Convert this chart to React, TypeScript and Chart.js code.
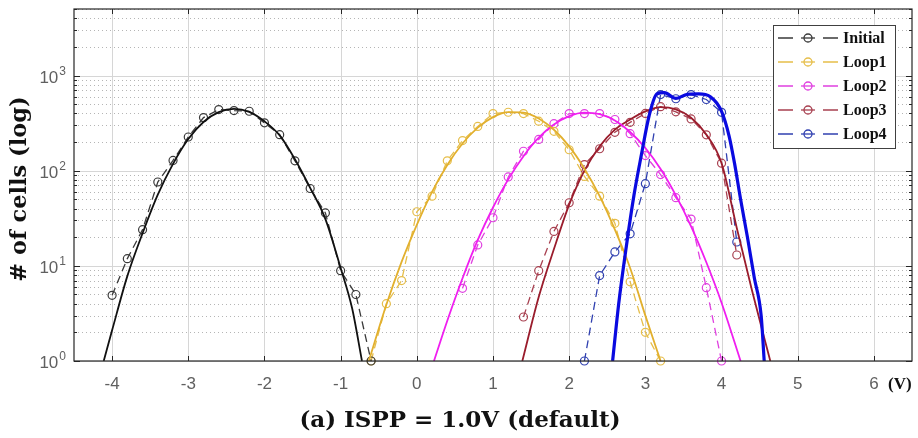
import React, { useEffect, useRef } from "react";
import { Chart, registerables } from "chart.js";

Chart.register(...registerables);

// ---------- data (threshold voltage V, number of cells) ----------
const initialV = [-4.0, -3.8, -3.6, -3.4, -3.2, -3.0, -2.8, -2.6, -2.4, -2.2, -2.0, -1.8, -1.6, -1.4, -1.2, -1.0, -0.8, -0.6];
const initialN = [4.9, 11.9, 24, 76, 128, 226, 361, 439, 428, 421, 318, 239, 127, 65, 36, 8.9, 5.0, 1];
const initialFitV = [-4.11, -4.0, -3.8, -3.6, -3.4, -3.2, -3.0, -2.8, -2.6, -2.4, -2.2, -2.0, -1.8, -1.6, -1.4, -1.2, -1.0, -0.85, -0.72];
const initialFitN = [1, 2.1, 7.8, 22, 56, 118, 215, 325, 412, 447, 415, 330, 235, 132, 66, 31, 9.5, 3.6, 1];

const loop1V = [-0.6, -0.4, -0.2, 0.0, 0.2, 0.4, 0.6, 0.8, 1.0, 1.2, 1.4, 1.6, 1.8, 2.0, 2.2, 2.4, 2.6, 2.8, 3.0, 3.2];
const loop1N = [1, 4, 7, 37, 54, 127, 207, 292, 398, 411, 398, 331, 259, 166, 87, 54, 28, 6.8, 2, 1];
const loop1FitV = [-0.63, -0.4, -0.2, 0.0, 0.2, 0.4, 0.6, 0.8, 1.0, 1.2, 1.4, 1.6, 1.8, 2.0, 2.2, 2.4, 2.6, 2.8, 3.0, 3.2];
const loop1FitN = [1, 3.9, 11, 27, 60, 115, 193, 283, 365, 412, 408, 354, 269, 180, 105, 54, 24, 9.5, 3, 1];

const loop2V = [0.6, 0.8, 1.0, 1.2, 1.4, 1.6, 1.8, 2.0, 2.2, 2.4, 2.6, 2.8, 3.0, 3.2, 3.4, 3.6, 3.8, 4.0];
const loop2N = [5.8, 16.6, 32, 86, 160, 213, 312, 398, 398, 398, 345, 245, 144, 91, 52, 31, 5.9, 1];
const loop2FitV = [0.225, 0.4, 0.6, 0.8, 1.0, 1.2, 1.4, 1.6, 1.8, 2.0, 2.2, 2.4, 2.6, 2.8, 3.0, 3.2, 3.4, 3.6, 3.8, 4.0, 4.25];
const loop2FitN = [1, 2.65, 7.4, 18.7, 41, 81, 142, 222, 305, 374, 407, 392, 336, 255, 173, 104, 55, 26, 10.9, 4.1, 1];

const loop3V = [1.4, 1.6, 1.8, 2.0, 2.2, 2.4, 2.6, 2.8, 3.0, 3.2, 3.4, 3.6, 3.8, 4.0, 4.2];
const loop3N = [2.9, 8.9, 23, 46, 116, 170, 253, 322, 400, 470, 415, 350, 238, 120, 13];
const loop3FitV = [1.385, 1.6, 1.8, 2.0, 2.2, 2.4, 2.6, 2.8, 3.0, 3.2, 3.4, 3.6, 3.8, 4.0, 4.2, 4.4, 4.64];
const loop3FitN = [1, 4.7, 15, 44, 100, 180, 270, 345, 420, 465, 440, 360, 240, 120, 25, 5.5, 1];

const loop4V = [2.2, 2.4, 2.6, 2.8, 3.0, 3.2, 3.4, 3.6, 3.8, 4.0, 4.2];
const loop4N = [1, 7.9, 14, 21.7, 73, 630, 570, 630, 560, 410, 17.8];
const loop4FitV = [2.57, 2.65, 2.75, 2.85, 2.95, 3.05, 3.15, 3.25, 3.4, 3.55, 3.7, 3.85, 4.0, 4.1, 4.17, 4.25, 4.34, 4.43, 4.52, 4.56];
const loop4FitN = [1, 4, 16, 55, 150, 380, 640, 660, 575, 635, 640, 600, 420, 230, 120, 50, 20, 7.5, 3, 1];

// ---------- axis / labels ----------
const xTicks = [-4, -3, -2, -1, 0, 1, 2, 3, 4, 5, 6];
const yDecades = [1, 10, 100, 1000];
const yExponents = ["0", "1", "2", "3"];
const yMinorMult = [2, 3, 4, 5, 6, 7, 8, 9];
const seriesLabels = ["Initial", "Loop1", "Loop2", "Loop3", "Loop4"];
const dataColors = ["#3a3a3a", "#E6BE4A", "#E040E0", "#A84050", "#3040B0"];
const fitColors = ["#111111", "#E2B02E", "#F01EF0", "#9A1C2C", "#0A0AE0"];
const xAxisTitle = "(a) ISPP = 1.0V (default)";
const yAxisTitle = "# of cells (log)";
const xUnit = "(V)";

const pts = (v: number[], n: number[]) => v.map((x, i) => ({ x, y: n[i] }));

const dataSets = [
  pts(initialV, initialN),
  pts(loop1V, loop1N),
  pts(loop2V, loop2N),
  pts(loop3V, loop3N),
  pts(loop4V, loop4N),
];
const fitSets = [
  pts(initialFitV, initialFitN),
  pts(loop1FitV, loop1FitN),
  pts(loop2FitV, loop2FitN),
  pts(loop3FitV, loop3FitN),
  pts(loop4FitV, loop4FitN),
];

const DASH = [8, 5];

const decor = {
  id: "decor",
  beforeDatasetsDraw(chart: any) {
    const { ctx, chartArea: a, scales } = chart;
    const xs = scales.x;
    const ys = scales.y;
    ctx.save();
    // minor dotted horizontal grid
    ctx.strokeStyle = "#b5b5b5";
    ctx.lineWidth = 1;
    ctx.setLineDash([1, 3]);
    for (const d of yDecades) {
      for (const m of yMinorMult) {
        const v = d * m;
        if (v > ys.max) continue;
        const y = Math.round(ys.getPixelForValue(v)) + 0.5;
        ctx.beginPath();
        ctx.moveTo(a.left, y);
        ctx.lineTo(a.right, y);
        ctx.stroke();
      }
    }
    // major grid
    ctx.setLineDash([]);
    ctx.strokeStyle = "#d6d6d6";
    for (const d of yDecades) {
      const y = Math.round(ys.getPixelForValue(d)) + 0.5;
      ctx.beginPath();
      ctx.moveTo(a.left, y);
      ctx.lineTo(a.right, y);
      ctx.stroke();
    }
    for (const t of xTicks) {
      const x = Math.round(xs.getPixelForValue(t)) + 0.5;
      ctx.beginPath();
      ctx.moveTo(x, a.top);
      ctx.lineTo(x, a.bottom);
      ctx.stroke();
    }
    ctx.restore();
  },
  afterDatasetsDraw(chart: any) {
    const { ctx, chartArea: a, scales } = chart;
    const xs = scales.x;
    const ys = scales.y;
    ctx.save();
    // box
    ctx.setLineDash([]);
    ctx.strokeStyle = "#262626";
    ctx.lineWidth = 1.2;
    ctx.strokeRect(a.left, a.top, a.right - a.left, a.bottom - a.top);
    // tick marks
    ctx.lineWidth = 1;
    ctx.beginPath();
    for (const t of xTicks) {
      const x = Math.round(xs.getPixelForValue(t)) + 0.5;
      ctx.moveTo(x, a.bottom);
      ctx.lineTo(x, a.bottom - 5);
      ctx.moveTo(x, a.top);
      ctx.lineTo(x, a.top + 5);
    }
    for (const d of yDecades) {
      const y = Math.round(ys.getPixelForValue(d)) + 0.5;
      ctx.moveTo(a.left, y);
      ctx.lineTo(a.left + 6, y);
      ctx.moveTo(a.right, y);
      ctx.lineTo(a.right - 6, y);
      for (const m of yMinorMult) {
        const v = d * m;
        if (v > ys.max) continue;
        const ym = Math.round(ys.getPixelForValue(v)) + 0.5;
        ctx.moveTo(a.left, ym);
        ctx.lineTo(a.left + 3, ym);
        ctx.moveTo(a.right, ym);
        ctx.lineTo(a.right - 3, ym);
      }
    }
    ctx.stroke();

    // x tick labels
    ctx.fillStyle = "#606060";
    ctx.font = '17px "Liberation Sans"';
    ctx.textAlign = "center";
    ctx.textBaseline = "alphabetic";
    for (const t of xTicks) {
      ctx.fillText(String(t), xs.getPixelForValue(t), 389);
    }
    // y tick labels 10^n
    const right = 66;
    yDecades.forEach((d, i) => {
      const y = ys.getPixelForValue(d);
      ctx.font = '12px "Liberation Sans"';
      const w2 = ctx.measureText(yExponents[i]).width;
      ctx.font = '17px "Liberation Sans"';
      const w1 = ctx.measureText("10").width;
      ctx.textAlign = "left";
      ctx.fillText("10", right - w2 - w1 - 1, y + 7);
      ctx.font = '12px "Liberation Sans"';
      ctx.fillText(yExponents[i], right - w2, y - 1);
    });

    // unit
    ctx.fillStyle = "#111";
    ctx.font = 'bold 17px "Liberation Serif"';
    ctx.textAlign = "left";
    ctx.fillText(xUnit, 888, 389);

    // x title
    ctx.font = 'bold 23px "DejaVu Serif"';
    ctx.textAlign = "center";
    ctx.fillText(xAxisTitle, 460, 427);

    // y title
    ctx.save();
    ctx.translate(20, 189);
    ctx.rotate(-Math.PI / 2);
    ctx.textBaseline = "middle";
    ctx.font = 'bold 22.5px "DejaVu Serif"';
    ctx.fillText(yAxisTitle, 0, 0);
    ctx.restore();

    // legend
    const lx = 773, ly = 25, lw = 122, lh = 123;
    ctx.fillStyle = "#ffffff";
    ctx.fillRect(lx, ly, lw, lh);
    ctx.strokeStyle = "#404040";
    ctx.lineWidth = 1;
    ctx.strokeRect(lx + 0.5, ly + 0.5, lw, lh);
    seriesLabels.forEach((lab, i) => {
      const cy = 38 + i * 24;
      const col = dataColors[i];
      ctx.strokeStyle = col;
      ctx.lineWidth = 1.3;
      ctx.beginPath();
      ctx.moveTo(778, cy);
      ctx.lineTo(793, cy);
      ctx.moveTo(823, cy);
      ctx.lineTo(838, cy);
      ctx.stroke();
      ctx.beginPath();
      ctx.arc(808, cy, 4, 0, Math.PI * 2);
      ctx.stroke();
      ctx.beginPath();
      ctx.moveTo(801, cy);
      ctx.lineTo(815, cy);
      ctx.stroke();
      ctx.fillStyle = "#111";
      ctx.font = 'bold 16px "Liberation Serif"';
      ctx.textAlign = "left";
      ctx.textBaseline = "middle";
      ctx.fillText(lab, 843, cy + 1);
    });
    ctx.restore();
  },
};

export default function App() {
  const ref = useRef<HTMLCanvasElement | null>(null);
  useEffect(() => {
    if (!ref.current) return;
    const datasets: any[] = [];
    fitSets.forEach((d, i) => {
      datasets.push({
        label: seriesLabels[i] + " fit",
        data: d,
        borderColor: fitColors[i],
        borderWidth: i === 4 ? 3.2 : 1.8,
        pointRadius: 0,
        fill: false,
        cubicInterpolationMode: "monotone",
        order: i === 4 ? 0 : 2,
      });
    });
    dataSets.forEach((d, i) => {
      datasets.push({
        label: seriesLabels[i],
        data: d,
        borderColor: dataColors[i],
        borderWidth: 1.3,
        borderDash: DASH,
        pointRadius: 4,
        pointBorderWidth: 1.2,
        pointBackgroundColor: "rgba(0,0,0,0)",
        pointBorderColor: dataColors[i],
        fill: false,
        tension: 0,
        clip: false,
        order: 5,
      });
    });
    const chart = new Chart(ref.current, {
      type: "line",
      data: { datasets },
      options: {
        animation: false,
        responsive: false,
        maintainAspectRatio: false,
        layout: { padding: { top: 9, right: 6, left: 0, bottom: 0 } },
        plugins: { legend: { display: false }, tooltip: { enabled: false } },
        events: [],
        scales: {
          x: {
            type: "linear",
            min: -4.5,
            max: 6.5,
            ticks: { display: false },
            grid: { display: false },
            border: { display: false },
            afterBuildTicks: (s: any) => {
              s.ticks = xTicks.map((v) => ({ value: v }));
            },
            afterFit: (s: any) => {
              s.height = 77;
            },
          },
          y: {
            type: "logarithmic",
            min: 1,
            max: 5000,
            ticks: { display: false },
            grid: { display: false },
            border: { display: false },
            afterFit: (s: any) => {
              s.width = 74;
            },
          },
        },
      } as any,
      plugins: [decor],
    });
    return () => chart.destroy();
  }, []);
  return (
    <div style={{ position: "fixed", left: 0, top: 0, width: 918, height: 438, background: "#fff" }}>
      <canvas ref={ref} width={918} height={438} style={{ width: 918, height: 438, display: "block" }} />
    </div>
  );
}
